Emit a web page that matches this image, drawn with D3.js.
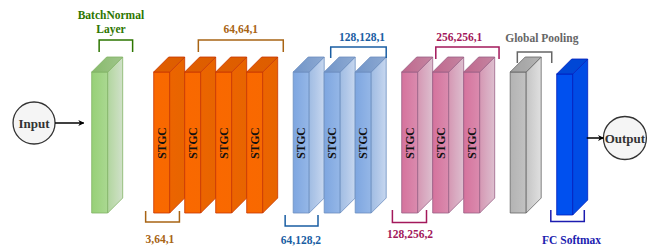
<!DOCTYPE html>
<html>
<head>
<meta charset="utf-8">
<script src="https://cdn.jsdelivr.net/npm/d3@7"></script>
<style>
  html, body { margin: 0; padding: 0; background: #fff; }
  svg { display: block; }
  text { font-family: "Liberation Serif", "Times New Roman", serif; font-weight: bold; }
</style>
</head>
<body>
<svg id="chart" width="668" height="251"></svg>
<script>
// layer blocks, left to right
var layerNames = ['BN', 'STGC', 'STGC', 'STGC', 'STGC', 'STGC', 'STGC', 'STGC', 'STGC', 'STGC', 'STGC', 'Pool', 'FC'];
var layerGroups = ['bn', 'orange', 'orange', 'orange', 'orange', 'blue', 'blue', 'blue', 'pink', 'pink', 'pink', 'gray', 'fc'];
// slot of each block along the flow (scale domain units)
var layerSlots = [0, 2, 3, 4, 5, 6.5, 7.5, 8.5, 10, 11, 12, 13.5, 15];

// bracket annotations
var bracketLabels = [['BatchNormal', 'Layer'], ['64,64,1'], ['3,64,1'], ['128,128,1'], ['64,128,2'],
  ['256,256,1'], ['128,256,2'], ['Global Pooling'], ['FC Softmax']];
var bracketGroups = ['bn', 'orange', 'orange', 'blue', 'blue', 'pink', 'pink', 'gray', 'fc'];
var bracketSides = ['top', 'top', 'bottom', 'top', 'bottom', 'top', 'bottom', 'top', 'bottom'];
var bracketFrom = [0.24, 3.44, 1.74, 7.71, 6.24, 11.1, 9.7, 13.73, 14.81];
var bracketTo = [1.32, 6.18, 2.83, 9.5, 7.3, 13.14, 10.8, 14.84, 15.89];
var bracketTextAt = [0.62, 4.81, 2.2, 8.72, 6.75, 11.86, 10.27, 14.52, 15.48];

var ioLabels = ['Input', 'Output'];


var svg = d3.select('#chart');

var x = d3.scaleLinear().domain([0, 15]).range([91.7, 556.7]);

var blockW = 16;
var depth = 15;
var frontTop = 72;
var frontBottom = 213;

var styles = {
  bn: {from: '#97d077', to: '#e3efde', stroke: '#82b366', text: '#2d7600', shift: 0},
  orange: {from: '#fa6800', to: '#f06a00', stroke: '#c73500', text: '#a86414', shift: 0},
  blue: {from: '#7ea6e0', to: '#dae8fc', stroke: '#6c8ebf', text: '#1a5ea3', shift: 0},
  pink: {from: '#d5739d', to: '#e8d3e0', stroke: '#996185', text: '#a3195b', shift: 0},
  gray: {from: '#b3b3b3', to: '#f0f0f0', stroke: '#666666', text: '#666666', shift: 0},
  fc: {from: '#0050ef', to: '#0050ef', stroke: '#001dbc', text: '#1c1cb0', shift: 2}
};

var defs = svg.append('defs');

/**
 * Adds a horizontal gradient
 * @param {string} id
 * @param {string} c0
 * @param {string} c1
 */
var addGradient = function(id, c0, c1) {
  var g = defs.append('linearGradient').attr('id', id)
      .attr('x1', '0%').attr('x2', '100%').attr('y1', '0%').attr('y2', '0%');
  g.append('stop').attr('offset', '0%').attr('stop-color', c0);
  g.append('stop').attr('offset', '100%').attr('stop-color', c1);
};

Object.keys(styles).forEach(function(k) {
  var mix = d3.interpolateRgb(styles[k].from, styles[k].to);
  addGradient('front-' + k, styles[k].from, mix(0.25));
  addGradient('side-' + k, mix(0.45), mix(0.88));
  addGradient('top-' + k, styles[k].from, mix(0.35));
});

defs.append('marker')
    .attr('id', 'arrow')
    .attr('viewBox', '0 0 10 10')
    .attr('refX', 9).attr('refY', 5)
    .attr('markerWidth', 6).attr('markerHeight', 6)
    .attr('markerUnits', 'userSpaceOnUse')
    .attr('orient', 'auto')
    .append('path').attr('d', 'M0,0 L10,5 L0,10 L3,5 Z').attr('fill', '#000');


/**
 * Draws one pseudo-3d block
 * @param {number} i index of the layer
 */
var drawBlock = function(i) {
  var grp = layerGroups[i];
  var st = styles[grp];
  var x0 = x(layerSlots[i]);
  var y0 = frontTop + st.shift;
  var y1 = frontBottom + st.shift;
  var g = svg.append('g').attr('class', 'block');
  var line = d3.line();

  // front
  g.append('path')
      .attr('d', line([[x0, y0], [x0 + blockW, y0], [x0 + blockW, y1], [x0, y1]]) + 'Z')
      .attr('fill', 'url(#front-' + grp + ')').attr('stroke', st.stroke).attr('stroke-width', 0.8);
  // side
  var side = [[x0 + blockW, y0], [x0 + blockW + depth, y0 - depth], [x0 + blockW + depth, y1 - depth], [x0 + blockW, y1]];
  g.append('path').attr('d', line(side) + 'Z').attr('fill', 'url(#side-' + grp + ')').attr('stroke', 'none');
  g.append('path').attr('d', line(side) + 'Z').attr('fill', '#000').attr('fill-opacity', 0.04)
      .attr('stroke', st.stroke).attr('stroke-width', 0.8);
  // top
  var top = [[x0, y0], [x0 + depth, y0 - depth], [x0 + blockW + depth, y0 - depth], [x0 + blockW, y0]];
  g.append('path').attr('d', line(top) + 'Z').attr('fill', 'url(#top-' + grp + ')').attr('stroke', 'none');
  g.append('path').attr('d', line(top) + 'Z').attr('fill', '#000').attr('fill-opacity', 0.1)
      .attr('stroke', st.stroke).attr('stroke-width', 0.8);

  if (layerNames[i] === 'STGC') {
    var cx = x0 + blockW / 2 + 4;
    g.append('text')
        .attr('transform', 'translate(' + cx + ',143) rotate(-90)')
        .attr('text-anchor', 'middle')
        .attr('font-size', '11.5px')
        .attr('fill', '#111')
        .text(layerNames[i]);
  }
};

layerNames.forEach(function(d, i) {
  drawBlock(i);
});


// brackets
var bracketY = {
  top: {bn: [40, 52], orange: [40, 52], blue: [47, 58], pink: [47, 59], gray: [52, 63]},
  bottom: {orange: [211, 222], blue: [215, 226], pink: [210, 222.5], fc: [210, 221.5]}
};
var textY = {
  top: {bn: 33, orange: 33, blue: 41, pink: 41, gray: 41.5},
  bottom: {orange: 242.5, blue: 244, pink: 237.5, fc: 244}
};

bracketLabels.forEach(function(lines, i) {
  var grp = bracketGroups[i];
  var side = bracketSides[i];
  var st = styles[grp];
  var yy = bracketY[side][grp];
  var xa = x(bracketFrom[i]);
  var xb = x(bracketTo[i]);
  var pts = side === 'top' ?
      [[xa, yy[1]], [xa, yy[0]], [xb, yy[0]], [xb, yy[1]]] :
      [[xa, yy[0]], [xa, yy[1]], [xb, yy[1]], [xb, yy[0]]];
  svg.append('path')
      .attr('d', d3.line()(pts))
      .attr('fill', 'none')
      .attr('stroke', st.text)
      .attr('stroke-width', 1.5);

  var t = svg.append('text')
      .attr('x', x(bracketTextAt[i]))
      .attr('y', textY[side][grp] - (lines.length - 1) * 14)
      .attr('text-anchor', 'middle')
      .attr('font-size', '11.5px')
      .attr('fill', st.text);
  lines.forEach(function(l, j) {
    t.append('tspan').attr('x', x(bracketTextAt[i])).attr('dy', j === 0 ? 0 : 14).text(l);
  });
});


// input / output nodes
var ioCx = [x(-1.86), x(17.2)];
var ioCy = [123, 138];
var ioR = [21, 21.5];

ioLabels.forEach(function(label, i) {
  svg.append('circle')
      .attr('cx', ioCx[i]).attr('cy', ioCy[i]).attr('r', ioR[i])
      .attr('fill', '#f5f5f5').attr('stroke', '#333').attr('stroke-width', 1.3);
  svg.append('text')
      .attr('x', ioCx[i]).attr('y', ioCy[i] + 4.5)
      .attr('text-anchor', 'middle')
      .attr('font-size', '13px')
      .attr('fill', '#333')
      .text(label);
});

svg.append('path')
    .attr('d', d3.line()([[ioCx[0] + ioR[0], ioCy[0]], [x(0) - 8, ioCy[0]]]))
    .attr('stroke', '#000').attr('stroke-width', 1.5).attr('marker-end', 'url(#arrow)');
svg.append('path')
    .attr('d', d3.line()([[x(15) + blockW + depth - 1, ioCy[1]], [ioCx[1] - ioR[1], ioCy[1]]]))
    .attr('stroke', '#000').attr('stroke-width', 1.5).attr('marker-end', 'url(#arrow)');
</script>
</body>
</html>
